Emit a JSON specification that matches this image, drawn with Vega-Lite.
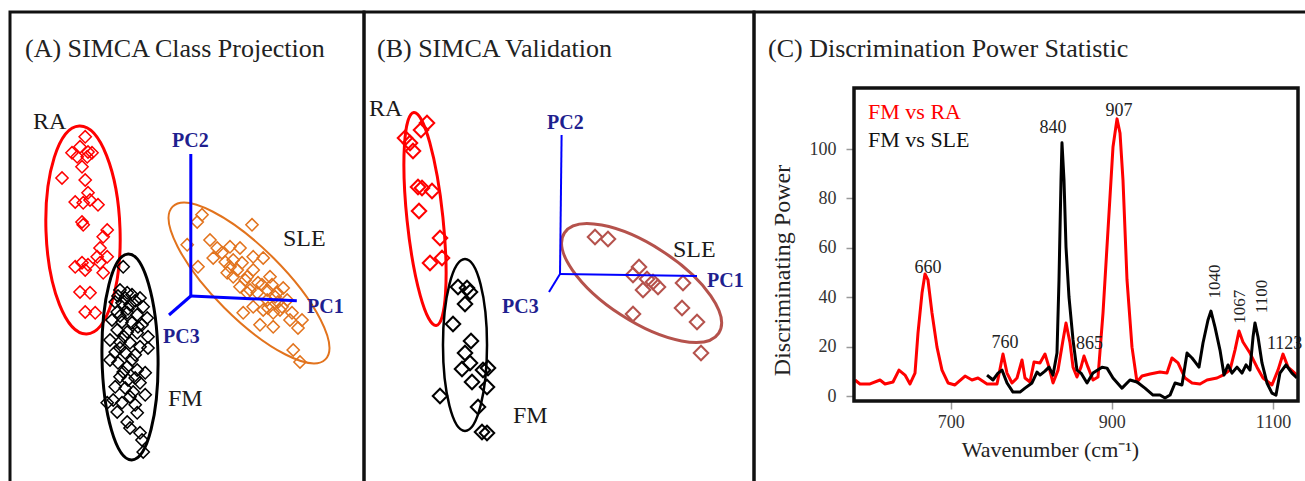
{
"$schema":"https://vega.github.io/schema/vega-lite/v6.json",
"width":1305,"height":481,"autosize":{"type":"none"},"padding":0,"background":"white",
"config":{"view":{"stroke":null},"font":"Liberation Serif"},
"datasets":{
"scoresA":[
{"cls":"RA","x":18.8,"y":88.8},{"cls":"RA","x":17.5,"y":86.3},{"cls":"RA","x":15.5,"y":84.8},{"cls":"RA","x":19.5,"y":85},{"cls":"RA","x":20.5,"y":84.8},{"cls":"RA","x":16.8,"y":83.8},{"cls":"RA","x":19.3,"y":83.8},{"cls":"RA","x":18,"y":81.3},{"cls":"RA","x":13,"y":78.5},{"cls":"RA","x":18.8,"y":78},{"cls":"RA","x":19.5,"y":74.8},{"cls":"RA","x":16.3,"y":72.5},{"cls":"RA","x":18.3,"y":72.3},{"cls":"RA","x":20,"y":73},{"cls":"RA","x":22,"y":71.8},{"cls":"RA","x":18,"y":67.5},{"cls":"RA","x":18.3,"y":66.8},{"cls":"RA","x":24.3,"y":65.5},{"cls":"RA","x":23.3,"y":63.8},{"cls":"RA","x":22.5,"y":61},{"cls":"RA","x":21.8,"y":58.8},{"cls":"RA","x":18,"y":57.3},{"cls":"RA","x":16.3,"y":56.3},{"cls":"RA","x":19.5,"y":56.8},{"cls":"RA","x":22.5,"y":57.3},{"cls":"RA","x":24.3,"y":58.8},{"cls":"RA","x":18.8,"y":55.5},{"cls":"RA","x":23.3,"y":54.8},{"cls":"RA","x":17.5,"y":50},{"cls":"RA","x":20,"y":49.8},{"cls":"RA","x":18.8,"y":45},{"cls":"RA","x":21.3,"y":44.8},
{"cls":"FM","x":28.3,"y":56.3},{"cls":"FM","x":27.5,"y":50.5},{"cls":"FM","x":29.3,"y":49.8},{"cls":"FM","x":30.5,"y":49.3},{"cls":"FM","x":32.5,"y":48.5},{"cls":"FM","x":26.3,"y":47.5},{"cls":"FM","x":28,"y":47.3},{"cls":"FM","x":30,"y":46.8},{"cls":"FM","x":33.3,"y":46.3},{"cls":"FM","x":26.8,"y":45},{"cls":"FM","x":29.3,"y":44.8},{"cls":"FM","x":31.8,"y":44.3},{"cls":"FM","x":34.3,"y":43.5},{"cls":"FM","x":25.5,"y":43},{"cls":"FM","x":28,"y":42.5},{"cls":"FM","x":30.5,"y":42.3},{"cls":"FM","x":33,"y":41.8},{"cls":"FM","x":26.8,"y":40.5},{"cls":"FM","x":29.3,"y":40},{"cls":"FM","x":31.8,"y":39.8},{"cls":"FM","x":34.5,"y":38.8},{"cls":"FM","x":25,"y":38},{"cls":"FM","x":27.5,"y":37.5},{"cls":"FM","x":30,"y":37.3},{"cls":"FM","x":32.5,"y":36.3},{"cls":"FM","x":34.5,"y":36},{"cls":"FM","x":26.3,"y":35},{"cls":"FM","x":28.8,"y":34.8},{"cls":"FM","x":31.3,"y":34.3},{"cls":"FM","x":25,"y":33},{"cls":"FM","x":27,"y":32.3},{"cls":"FM","x":29.3,"y":31.3},{"cls":"FM","x":31.8,"y":30.5},{"cls":"FM","x":33.8,"y":29.8},{"cls":"FM","x":27.5,"y":28.8},{"cls":"FM","x":29.5,"y":28},{"cls":"FM","x":32.5,"y":27.3},{"cls":"FM","x":26.3,"y":26.3},{"cls":"FM","x":28.8,"y":26},{"cls":"FM","x":30.8,"y":25},{"cls":"FM","x":33.8,"y":24.3},{"cls":"FM","x":25.8,"y":23},{"cls":"FM","x":24.3,"y":22.3},{"cls":"FM","x":28,"y":22.3},{"cls":"FM","x":31.3,"y":21.8},{"cls":"FM","x":26.8,"y":20},{"cls":"FM","x":31.8,"y":19.8},{"cls":"FM","x":29.3,"y":17.5},{"cls":"FM","x":30,"y":16},{"cls":"FM","x":32.5,"y":14.8},{"cls":"FM","x":33,"y":13},{"cls":"FM","x":33.3,"y":10},{"cls":"FM","x":28.8,"y":48.5},{"cls":"FM","x":27,"y":49},{"cls":"FM","x":31.3,"y":47.8},{"cls":"FM","x":29.5,"y":45.8},{"cls":"FM","x":27.5,"y":44},{"cls":"FM","x":32,"y":41.3},{"cls":"FM","x":28.5,"y":38.8},{"cls":"FM","x":27.5,"y":36},{"cls":"FM","x":30.5,"y":33},{"cls":"FM","x":28.3,"y":30},{"cls":"FM","x":31.3,"y":28.5},{"cls":"FM","x":30,"y":23.8},
{"cls":"SLE","x":44.3,"y":61.8},{"cls":"SLE","x":46.8,"y":67.5},{"cls":"SLE","x":48,"y":69.3},{"cls":"SLE","x":47,"y":56.3},{"cls":"SLE","x":50,"y":63},{"cls":"SLE","x":51.8,"y":61},{"cls":"SLE","x":53,"y":59.8},{"cls":"SLE","x":50.8,"y":58.5},{"cls":"SLE","x":55,"y":61.3},{"cls":"SLE","x":55.8,"y":58},{"cls":"SLE","x":57.5,"y":61},{"cls":"SLE","x":58,"y":57.3},{"cls":"SLE","x":60.5,"y":66.8},{"cls":"SLE","x":60.8,"y":55.5},{"cls":"SLE","x":59.3,"y":53.8},{"cls":"SLE","x":55.8,"y":53.8},{"cls":"SLE","x":54.3,"y":54.8},{"cls":"SLE","x":57.5,"y":51.3},{"cls":"SLE","x":60.8,"y":58.8},{"cls":"SLE","x":63.3,"y":58.5},{"cls":"SLE","x":62,"y":52.3},{"cls":"SLE","x":64.3,"y":50.5},{"cls":"SLE","x":65,"y":53.8},{"cls":"SLE","x":66.8,"y":49.8},{"cls":"SLE","x":68.3,"y":51},{"cls":"SLE","x":69.3,"y":48},{"cls":"SLE","x":68,"y":46.3},{"cls":"SLE","x":65.8,"y":44.8},{"cls":"SLE","x":63.3,"y":45.5},{"cls":"SLE","x":60.8,"y":46.3},{"cls":"SLE","x":58.3,"y":44.8},{"cls":"SLE","x":62.5,"y":41.8},{"cls":"SLE","x":65.8,"y":41.3},{"cls":"SLE","x":70,"y":43},{"cls":"SLE","x":72,"y":41},{"cls":"SLE","x":73,"y":43},{"cls":"SLE","x":70.8,"y":35.5},{"cls":"SLE","x":72.5,"y":32.5},{"cls":"SLE","x":55,"y":56.3},{"cls":"SLE","x":56.8,"y":55.5},{"cls":"SLE","x":59.3,"y":49.8},{"cls":"SLE","x":64.3,"y":48},{"cls":"SLE","x":67,"y":47.5},{"cls":"SLE","x":61.8,"y":49.8},{"cls":"SLE","x":65.5,"y":51.8},{"cls":"SLE","x":58.8,"y":53},{"cls":"SLE","x":63,"y":51.8},{"cls":"SLE","x":60,"y":50.5},{"cls":"SLE","x":66.3,"y":48.8},{"cls":"SLE","x":67.5,"y":45.5},{"cls":"SLE","x":53.8,"y":57.5},{"cls":"SLE","x":64.5,"y":46},{"cls":"SLE","x":70.5,"y":44.8}
],
"scoresB":[
{"cls":"RA","x":15.75,"y":92.25},{"cls":"RA","x":14.25,"y":90.5},{"cls":"RA","x":10.25,"y":88.5},{"cls":"RA","x":11.5,"y":87.25},{"cls":"RA","x":12.25,"y":85.25},{"cls":"RA","x":13.5,"y":76.25},{"cls":"RA","x":14.5,"y":76},{"cls":"RA","x":17,"y":75.25},{"cls":"RA","x":13.75,"y":70.25},{"cls":"RA","x":19,"y":63.5},{"cls":"RA","x":19.5,"y":58.5},{"cls":"RA","x":16.5,"y":57.25},
{"cls":"FM","x":23.5,"y":51.25},{"cls":"FM","x":25.75,"y":51},{"cls":"FM","x":26.5,"y":50},{"cls":"FM","x":25.25,"y":47},{"cls":"FM","x":22.25,"y":42},{"cls":"FM","x":26.75,"y":37.75},{"cls":"FM","x":25.25,"y":34.75},{"cls":"FM","x":24.5,"y":30.75},{"cls":"FM","x":26.5,"y":32.25},{"cls":"FM","x":27,"y":27.5},{"cls":"FM","x":29.75,"y":30.5},{"cls":"FM","x":31,"y":31},{"cls":"FM","x":30.75,"y":26.25},{"cls":"FM","x":19,"y":24},{"cls":"FM","x":28.5,"y":21.25},{"cls":"FM","x":29.5,"y":15},{"cls":"FM","x":30.75,"y":14.75},
{"cls":"SLE","x":57.75,"y":63.75},{"cls":"SLE","x":61,"y":63.25},{"cls":"SLE","x":68.75,"y":56.25},{"cls":"SLE","x":67.25,"y":54.25},{"cls":"SLE","x":70.75,"y":53.25},{"cls":"SLE","x":72.25,"y":52.5},{"cls":"SLE","x":73.5,"y":51.25},{"cls":"SLE","x":69.75,"y":50.5},{"cls":"SLE","x":79.75,"y":52.25},{"cls":"SLE","x":67.25,"y":44.5},{"cls":"SLE","x":79.5,"y":46},{"cls":"SLE","x":83.25,"y":42.5},{"cls":"SLE","x":84.25,"y":34.75}
],
"pcAxesA":[{"axis":"PC1","x":45.2,"y":49,"x2":71.7,"y2":47.8},{"axis":"PC2","x":45.2,"y":49,"x2":45.2,"y2":84.5},{"axis":"PC3","x":45.2,"y":49,"x2":39.75,"y2":44.25}],
"pcAxesB":[{"axis":"PC1","x":49,"y":54.5,"x2":83.25,"y2":54},{"axis":"PC2","x":49,"y":54.5,"x2":49.4,"y2":89.25},{"axis":"PC3","x":49,"y":54.5,"x2":46.25,"y2":50}],
"dp":[
{"pair":"FM vs RA","wn":581.2,"dp":6.5},{"pair":"FM vs RA","wn":587.4,"dp":4.9},{"pair":"FM vs RA","wn":599.9,"dp":4.9},{"pair":"FM vs RA","wn":612.3,"dp":6.5},{"pair":"FM vs RA","wn":618.5,"dp":4.9},{"pair":"FM vs RA","wn":628.4,"dp":5.7},{"pair":"FM vs RA","wn":635.8,"dp":10.5},{"pair":"FM vs RA","wn":643.3,"dp":8.5},{"pair":"FM vs RA","wn":649.5,"dp":4.9},{"pair":"FM vs RA","wn":655.7,"dp":9.3},{"pair":"FM vs RA","wn":659.4,"dp":25.5},{"pair":"FM vs RA","wn":664.4,"dp":41.7},{"pair":"FM vs RA","wn":668.1,"dp":49.4},{"pair":"FM vs RA","wn":671.8,"dp":47},{"pair":"FM vs RA","wn":676.8,"dp":33.6},{"pair":"FM vs RA","wn":683,"dp":19.8},{"pair":"FM vs RA","wn":689.2,"dp":10.5},{"pair":"FM vs RA","wn":696.7,"dp":5.3},{"pair":"FM vs RA","wn":705.3,"dp":4.5},{"pair":"FM vs RA","wn":717.8,"dp":8.1},{"pair":"FM vs RA","wn":726.4,"dp":6.5},{"pair":"FM vs RA","wn":733.9,"dp":7.3},{"pair":"FM vs RA","wn":745.1,"dp":4.9},{"pair":"FM vs RA","wn":757.5,"dp":4.9},{"pair":"FM vs RA","wn":764.9,"dp":17},{"pair":"FM vs RA","wn":769.9,"dp":9.3},{"pair":"FM vs RA","wn":776.1,"dp":5.3},{"pair":"FM vs RA","wn":782.3,"dp":7.3},{"pair":"FM vs RA","wn":788.5,"dp":14.6},{"pair":"FM vs RA","wn":792.2,"dp":7.3},{"pair":"FM vs RA","wn":798.4,"dp":5.7},{"pair":"FM vs RA","wn":803.4,"dp":13.8},{"pair":"FM vs RA","wn":810.8,"dp":13.4},{"pair":"FM vs RA","wn":817,"dp":17},{"pair":"FM vs RA","wn":822,"dp":11.7},{"pair":"FM vs RA","wn":827,"dp":5.3},{"pair":"FM vs RA","wn":833.2,"dp":10.5},{"pair":"FM vs RA","wn":839.4,"dp":22.7},{"pair":"FM vs RA","wn":843.1,"dp":29.6},{"pair":"FM vs RA","wn":848.1,"dp":21.5},{"pair":"FM vs RA","wn":851.8,"dp":11.7},{"pair":"FM vs RA","wn":856.7,"dp":7.7},{"pair":"FM vs RA","wn":861.7,"dp":11.7},{"pair":"FM vs RA","wn":865.4,"dp":16.2},{"pair":"FM vs RA","wn":870.4,"dp":11.7},{"pair":"FM vs RA","wn":876.6,"dp":6.5},{"pair":"FM vs RA","wn":882.8,"dp":7.7},{"pair":"FM vs RA","wn":889,"dp":33.6},{"pair":"FM vs RA","wn":895.2,"dp":67.2},{"pair":"FM vs RA","wn":901.4,"dp":100.8},{"pair":"FM vs RA","wn":906.4,"dp":112.2},{"pair":"FM vs RA","wn":910.1,"dp":106.5},{"pair":"FM vs RA","wn":913.8,"dp":87.5},{"pair":"FM vs RA","wn":918.8,"dp":47},{"pair":"FM vs RA","wn":925,"dp":19.8},{"pair":"FM vs RA","wn":931.2,"dp":5.7},{"pair":"FM vs RA","wn":937.4,"dp":8.1},{"pair":"FM vs RA","wn":947.3,"dp":8.9},{"pair":"FM vs RA","wn":959.7,"dp":9.7},{"pair":"FM vs RA","wn":968.4,"dp":9.3},{"pair":"FM vs RA","wn":974.6,"dp":15.4},{"pair":"FM vs RA","wn":982.1,"dp":13.4},{"pair":"FM vs RA","wn":990.8,"dp":7.3},{"pair":"FM vs RA","wn":999.5,"dp":5.3},{"pair":"FM vs RA","wn":1009.4,"dp":4.9},{"pair":"FM vs RA","wn":1018.1,"dp":6.5},{"pair":"FM vs RA","wn":1030.5,"dp":7.3},{"pair":"FM vs RA","wn":1037.9,"dp":8.5},{"pair":"FM vs RA","wn":1046.6,"dp":10.5},{"pair":"FM vs RA","wn":1052.8,"dp":18.6},{"pair":"FM vs RA","wn":1057.8,"dp":26.3},{"pair":"FM vs RA","wn":1062.7,"dp":21.9},{"pair":"FM vs RA","wn":1071.4,"dp":17.4},{"pair":"FM vs RA","wn":1080.1,"dp":11.7},{"pair":"FM vs RA","wn":1087.6,"dp":7.3},{"pair":"FM vs RA","wn":1098.7,"dp":4.5},{"pair":"FM vs RA","wn":1106.2,"dp":10.5},{"pair":"FM vs RA","wn":1112.4,"dp":17},{"pair":"FM vs RA","wn":1118.6,"dp":11.7},{"pair":"FM vs RA","wn":1129.8,"dp":8.5},
{"pair":"FM vs SLE","wn":745.1,"dp":8.5},{"pair":"FM vs SLE","wn":752.5,"dp":6.5},{"pair":"FM vs SLE","wn":758.7,"dp":9.3},{"pair":"FM vs SLE","wn":763.7,"dp":10.5},{"pair":"FM vs SLE","wn":769.9,"dp":5.3},{"pair":"FM vs SLE","wn":777.3,"dp":1.6},{"pair":"FM vs SLE","wn":786,"dp":1.6},{"pair":"FM vs SLE","wn":792.2,"dp":3.2},{"pair":"FM vs SLE","wn":800.9,"dp":5.3},{"pair":"FM vs SLE","wn":807.1,"dp":9.7},{"pair":"FM vs SLE","wn":810.8,"dp":8.5},{"pair":"FM vs SLE","wn":817,"dp":10.1},{"pair":"FM vs SLE","wn":822,"dp":11.7},{"pair":"FM vs SLE","wn":827,"dp":8.5},{"pair":"FM vs SLE","wn":831.9,"dp":17.4},{"pair":"FM vs SLE","wn":834.4,"dp":47},{"pair":"FM vs SLE","wn":836.9,"dp":87.5},{"pair":"FM vs SLE","wn":838.1,"dp":102.5},{"pair":"FM vs SLE","wn":840.6,"dp":87.5},{"pair":"FM vs SLE","wn":843.1,"dp":60.3},{"pair":"FM vs SLE","wn":846.8,"dp":40.1},{"pair":"FM vs SLE","wn":851.8,"dp":22.7},{"pair":"FM vs SLE","wn":856.7,"dp":10.5},{"pair":"FM vs SLE","wn":861.7,"dp":9.3},{"pair":"FM vs SLE","wn":869.2,"dp":5.3},{"pair":"FM vs SLE","wn":876.6,"dp":9.3},{"pair":"FM vs SLE","wn":887.8,"dp":11.7},{"pair":"FM vs SLE","wn":894,"dp":11.3},{"pair":"FM vs SLE","wn":901.4,"dp":7.3},{"pair":"FM vs SLE","wn":912.6,"dp":3.2},{"pair":"FM vs SLE","wn":922.5,"dp":6.5},{"pair":"FM vs SLE","wn":931.2,"dp":5.7},{"pair":"FM vs SLE","wn":941.1,"dp":3.2},{"pair":"FM vs SLE","wn":951.1,"dp":0.4},{"pair":"FM vs SLE","wn":959.7,"dp":0.4},{"pair":"FM vs SLE","wn":966,"dp":-0.8},{"pair":"FM vs SLE","wn":972.2,"dp":0.4},{"pair":"FM vs SLE","wn":978.4,"dp":5.3},{"pair":"FM vs SLE","wn":987,"dp":4.5},{"pair":"FM vs SLE","wn":993.3,"dp":17.4},{"pair":"FM vs SLE","wn":999.5,"dp":15.4},{"pair":"FM vs SLE","wn":1003.2,"dp":13.8},{"pair":"FM vs SLE","wn":1008.1,"dp":11.7},{"pair":"FM vs SLE","wn":1013.1,"dp":21.5},{"pair":"FM vs SLE","wn":1019.3,"dp":30.8},{"pair":"FM vs SLE","wn":1023,"dp":34.4},{"pair":"FM vs SLE","wn":1028,"dp":27.9},{"pair":"FM vs SLE","wn":1034.2,"dp":18.6},{"pair":"FM vs SLE","wn":1039.2,"dp":8.5},{"pair":"FM vs SLE","wn":1044.1,"dp":12.6},{"pair":"FM vs SLE","wn":1049.1,"dp":9.3},{"pair":"FM vs SLE","wn":1055.3,"dp":11.7},{"pair":"FM vs SLE","wn":1061.5,"dp":9.3},{"pair":"FM vs SLE","wn":1066.5,"dp":12.6},{"pair":"FM vs SLE","wn":1071.4,"dp":10.5},{"pair":"FM vs SLE","wn":1075.2,"dp":23.9},{"pair":"FM vs SLE","wn":1077.6,"dp":29.6},{"pair":"FM vs SLE","wn":1081.4,"dp":23.9},{"pair":"FM vs SLE","wn":1086.3,"dp":13.4},{"pair":"FM vs SLE","wn":1092.5,"dp":5.3},{"pair":"FM vs SLE","wn":1098.7,"dp":1.2},{"pair":"FM vs SLE","wn":1103.7,"dp":0.4},{"pair":"FM vs SLE","wn":1108.6,"dp":9.3},{"pair":"FM vs SLE","wn":1116.1,"dp":12.6},{"pair":"FM vs SLE","wn":1123.5,"dp":9.3},{"pair":"FM vs SLE","wn":1129.8,"dp":7.3}
]
},
"layer":[
{"layer":[
 {"data":{"values":[{}]},"mark":{"type":"rect","fill":"transparent","stroke":"#111111","strokeWidth":3},
  "encoding":{"x":{"datum":0,"type":"quantitative","scale":{"domain":[0,88.5],"range":[10,364],"nice":false,"zero":false},"axis":null},"x2":{"datum":88.5},"y":{"datum":0,"type":"quantitative","scale":{"domain":[0,120],"range":[492,12],"nice":false,"zero":false},"axis":null},"y2":{"datum":120}}},
 {"data":{"values":[{"cls":"RA","x":18.25,"y":65.5}]},"mark":{"type":"point","shape":"M 1 0 C 1 0.1966 0.5523 0.356 0 0.356 C -0.5523 0.356 -1 0.1966 -1 0 C -1 -0.1966 -0.5523 -0.356 0 -0.356 C 0.5523 -0.356 1 -0.1966 1 0 Z","size":43264,"angle":88,"filled":false,"stroke":"#ff0000","strokeWidth":3,"opacity":1},
  "encoding":{"x":{"field":"x","type":"quantitative","scale":{"domain":[0,88.5],"range":[10,364],"nice":false,"zero":false},"axis":null},"y":{"field":"y","type":"quantitative","scale":{"domain":[0,120],"range":[492,12],"nice":false,"zero":false},"axis":null}}},
 {"data":{"values":[{"cls":"FM","x":30,"y":33.75}]},"mark":{"type":"point","shape":"M 1 0 C 1 0.1502 0.5523 0.272 0 0.272 C -0.5523 0.272 -1 0.1502 -1 0 C -1 -0.1502 -0.5523 -0.272 0 -0.272 C 0.5523 -0.272 1 -0.1502 1 0 Z","size":42436,"angle":89,"filled":false,"stroke":"#000000","strokeWidth":3,"opacity":1},
  "encoding":{"x":{"field":"x","type":"quantitative","scale":{"domain":[0,88.5],"range":[10,364],"nice":false,"zero":false},"axis":null},"y":{"field":"y","type":"quantitative","scale":{"domain":[0,120],"range":[492,12],"nice":false,"zero":false},"axis":null}}},
 {"data":{"values":[{"cls":"SLE","x":59.75,"y":52.25}]},"mark":{"type":"point","shape":"M 1 0 C 1 0.1789 0.5523 0.324 0 0.324 C -0.5523 0.324 -1 0.1789 -1 0 C -1 -0.1789 -0.5523 -0.324 0 -0.324 C 0.5523 -0.324 1 -0.1789 1 0 Z","size":46656,"angle":45,"filled":false,"stroke":"#e2731d","strokeWidth":2,"opacity":1},
  "encoding":{"x":{"field":"x","type":"quantitative","scale":{"domain":[0,88.5],"range":[10,364],"nice":false,"zero":false},"axis":null},"y":{"field":"y","type":"quantitative","scale":{"domain":[0,120],"range":[492,12],"nice":false,"zero":false},"axis":null}}},
 {"data":{"name":"scoresA"},"mark":{"type":"point","shape":"diamond","size":150,"filled":false,"strokeWidth":1.5,"opacity":1},
  "encoding":{"x":{"field":"x","type":"quantitative","scale":{"domain":[0,88.5],"range":[10,364],"nice":false,"zero":false},"axis":null},"y":{"field":"y","type":"quantitative","scale":{"domain":[0,120],"range":[492,12],"nice":false,"zero":false},"axis":null},
   "color":{"field":"cls","type":"nominal","scale":{"domain":["RA","FM","SLE"],"range":["#ff0000","#000000","#e2731d"]},"legend":null}}},
 {"data":{"name":"pcAxesA"},"mark":{"type":"rule","color":"#0000ff","strokeWidth":3},
  "encoding":{"x":{"field":"x","type":"quantitative","scale":{"domain":[0,88.5],"range":[10,364],"nice":false,"zero":false},"axis":null},"y":{"field":"y","type":"quantitative","scale":{"domain":[0,120],"range":[492,12],"nice":false,"zero":false},"axis":null},"x2":{"field":"x2"},"y2":{"field":"y2"}}},
 {"data":{"values":[{"label":"PC2","x":40.5,"y":86.25},{"label":"PC1","x":74.25,"y":44.75},{"label":"PC3","x":38.25,"y":37.25}]},"mark":{"type":"text","align":"left","baseline":"alphabetic","font":"Liberation Serif","fontSize":20,"fontWeight":"bold","color":"#1f1f8f"},
  "encoding":{"x":{"field":"x","type":"quantitative","scale":{"domain":[0,88.5],"range":[10,364],"nice":false,"zero":false},"axis":null},"y":{"field":"y","type":"quantitative","scale":{"domain":[0,120],"range":[492,12],"nice":false,"zero":false},"axis":null},"text":{"field":"label"}}},
 {"data":{"values":[{"label":"RA","x":5.75,"y":90.75},{"label":"SLE","x":68.25,"y":61.5},{"label":"FM","x":39.5,"y":21.5}]},"mark":{"type":"text","align":"left","baseline":"alphabetic","font":"Liberation Serif","fontSize":24,"color":"#1a1a1a"},
  "encoding":{"x":{"field":"x","type":"quantitative","scale":{"domain":[0,88.5],"range":[10,364],"nice":false,"zero":false},"axis":null},"y":{"field":"y","type":"quantitative","scale":{"domain":[0,120],"range":[492,12],"nice":false,"zero":false},"axis":null},"text":{"field":"label"}}},
 {"data":{"values":[{"label":"(A) SIMCA Class Projection","x":3.75,"y":108.75}]},"mark":{"type":"text","align":"left","baseline":"alphabetic","font":"Liberation Serif","fontSize":26,"color":"#222222"},
  "encoding":{"x":{"field":"x","type":"quantitative","scale":{"domain":[0,88.5],"range":[10,364],"nice":false,"zero":false},"axis":null},"y":{"field":"y","type":"quantitative","scale":{"domain":[0,120],"range":[492,12],"nice":false,"zero":false},"axis":null},"text":{"field":"label"}}}
]},
{"layer":[
 {"data":{"values":[{}]},"mark":{"type":"rect","fill":"transparent","stroke":"#111111","strokeWidth":3},
  "encoding":{"x":{"datum":0,"type":"quantitative","scale":{"domain":[0,97.5],"range":[364,754],"nice":false,"zero":false},"axis":null},"x2":{"datum":97.5},"y":{"datum":0,"type":"quantitative","scale":{"domain":[0,120],"range":[492,12],"nice":false,"zero":false},"axis":null},"y2":{"datum":120}}},
 {"data":{"values":[{"cls":"RA","x":15.25,"y":68.25}]},"mark":{"type":"point","shape":"M 1 0 C 1 0.0928 0.5523 0.168 0 0.168 C -0.5523 0.168 -1 0.0928 -1 0 C -1 -0.0928 -0.5523 -0.168 0 -0.168 C 0.5523 -0.168 1 -0.0928 1 0 Z","size":45796,"angle":84,"filled":false,"stroke":"#ff0000","strokeWidth":3,"opacity":1},
  "encoding":{"x":{"field":"x","type":"quantitative","scale":{"domain":[0,97.5],"range":[364,754],"nice":false,"zero":false},"axis":null},"y":{"field":"y","type":"quantitative","scale":{"domain":[0,120],"range":[492,12],"nice":false,"zero":false},"axis":null}}},
 {"data":{"values":[{"cls":"FM","x":25.25,"y":36.75}]},"mark":{"type":"point","shape":"M 1 0 C 1 0.1414 0.5523 0.256 0 0.256 C -0.5523 0.256 -1 0.1414 -1 0 C -1 -0.1414 -0.5523 -0.256 0 -0.256 C 0.5523 -0.256 1 -0.1414 1 0 Z","size":29584,"angle":90,"filled":false,"stroke":"#000000","strokeWidth":2.5,"opacity":1},
  "encoding":{"x":{"field":"x","type":"quantitative","scale":{"domain":[0,97.5],"range":[364,754],"nice":false,"zero":false},"axis":null},"y":{"field":"y","type":"quantitative","scale":{"domain":[0,120],"range":[492,12],"nice":false,"zero":false},"axis":null}}},
 {"data":{"values":[{"cls":"SLE","x":69.4,"y":52.25}]},"mark":{"type":"point","shape":"M 1 0 C 1 0.2281 0.5523 0.413 0 0.413 C -0.5523 0.413 -1 0.2281 -1 0 C -1 -0.2281 -0.5523 -0.413 0 -0.413 C 0.5523 -0.413 1 -0.2281 1 0 Z","size":33856,"angle":33,"filled":false,"stroke":"#b5524c","strokeWidth":3,"opacity":1},
  "encoding":{"x":{"field":"x","type":"quantitative","scale":{"domain":[0,97.5],"range":[364,754],"nice":false,"zero":false},"axis":null},"y":{"field":"y","type":"quantitative","scale":{"domain":[0,120],"range":[492,12],"nice":false,"zero":false},"axis":null}}},
 {"data":{"name":"scoresB"},"mark":{"type":"point","shape":"diamond","size":210,"filled":false,"strokeWidth":2,"opacity":1},
  "encoding":{"x":{"field":"x","type":"quantitative","scale":{"domain":[0,97.5],"range":[364,754],"nice":false,"zero":false},"axis":null},"y":{"field":"y","type":"quantitative","scale":{"domain":[0,120],"range":[492,12],"nice":false,"zero":false},"axis":null},
   "color":{"field":"cls","type":"nominal","scale":{"domain":["RA","FM","SLE"],"range":["#ff0000","#000000","#b5524c"]},"legend":null}}},
 {"data":{"name":"pcAxesB"},"mark":{"type":"rule","color":"#0000ff","strokeWidth":2},
  "encoding":{"x":{"field":"x","type":"quantitative","scale":{"domain":[0,97.5],"range":[364,754],"nice":false,"zero":false},"axis":null},"y":{"field":"y","type":"quantitative","scale":{"domain":[0,120],"range":[492,12],"nice":false,"zero":false},"axis":null},"x2":{"field":"x2"},"y2":{"field":"y2"}}},
 {"data":{"values":[{"label":"PC2","x":45.75,"y":90.75},{"label":"PC1","x":85.75,"y":51.25},{"label":"PC3","x":34.5,"y":44.75}]},"mark":{"type":"text","align":"left","baseline":"alphabetic","font":"Liberation Serif","fontSize":20,"fontWeight":"bold","color":"#1f1f8f"},
  "encoding":{"x":{"field":"x","type":"quantitative","scale":{"domain":[0,97.5],"range":[364,754],"nice":false,"zero":false},"axis":null},"y":{"field":"y","type":"quantitative","scale":{"domain":[0,120],"range":[492,12],"nice":false,"zero":false},"axis":null},"text":{"field":"label"}}},
 {"data":{"values":[{"label":"RA","x":1.25,"y":94},{"label":"SLE","x":77.25,"y":58.75},{"label":"FM","x":37.25,"y":17.25}]},"mark":{"type":"text","align":"left","baseline":"alphabetic","font":"Liberation Serif","fontSize":24,"color":"#1a1a1a"},
  "encoding":{"x":{"field":"x","type":"quantitative","scale":{"domain":[0,97.5],"range":[364,754],"nice":false,"zero":false},"axis":null},"y":{"field":"y","type":"quantitative","scale":{"domain":[0,120],"range":[492,12],"nice":false,"zero":false},"axis":null},"text":{"field":"label"}}},
 {"data":{"values":[{"label":"(B) SIMCA Validation","x":3.25,"y":108.75}]},"mark":{"type":"text","align":"left","baseline":"alphabetic","font":"Liberation Serif","fontSize":26,"color":"#222222"},
  "encoding":{"x":{"field":"x","type":"quantitative","scale":{"domain":[0,97.5],"range":[364,754],"nice":false,"zero":false},"axis":null},"y":{"field":"y","type":"quantitative","scale":{"domain":[0,120],"range":[492,12],"nice":false,"zero":false},"axis":null},"text":{"field":"label"}}}
]},
{"layer":[
 {"data":{"values":[{}]},"mark":{"type":"rect","fill":"transparent","stroke":"#111111","strokeWidth":3},
  "encoding":{"x":{"datum":0,"type":"quantitative","scale":{"domain":[0,139],"range":[754,1310],"nice":false,"zero":false},"axis":null},"x2":{"datum":139},"y":{"datum":0,"type":"quantitative","scale":{"domain":[0,120],"range":[492,12],"nice":false,"zero":false},"axis":null},"y2":{"datum":120}}},
 {"data":{"values":[{"label":"(C) Discrimination Power Statistic","x":3.5,"y":108.75}]},"mark":{"type":"text","align":"left","baseline":"alphabetic","font":"Liberation Serif","fontSize":26,"color":"#222222"},
  "encoding":{"x":{"field":"x","type":"quantitative","scale":{"domain":[0,139],"range":[754,1310],"nice":false,"zero":false},"axis":null},"y":{"field":"y","type":"quantitative","scale":{"domain":[0,120],"range":[492,12],"nice":false,"zero":false},"axis":null},"text":{"field":"label"}}}
]},
{"layer":[
 {"data":{"name":"dp"},"transform":[{"filter":"datum.pair === 'FM vs RA'"}],"mark":{"type":"line","color":"#ff0000","strokeWidth":3,"strokeJoin":"round"},
  "encoding":{"x":{"field":"wn","type":"quantitative","scale":{"domain":[580,1131],"range":[854,1298],"nice":false,"zero":false},
    "axis":{"orient":"bottom","offset":-80,"values":[700,900,1100],"format":"d","domain":false,"grid":false,"tickSize":8,"tickColor":"#9a9a9a","tickWidth":1.5,"labelFont":"Liberation Serif","labelFontSize":18,"labelColor":"#333333","labelPadding":4,"labelFlush":false,"title":"Wavenumber (cm⁻¹)","titleFont":"Liberation Serif","titleFontSize":22,"titleFontWeight":"normal","titleColor":"#222222","titleX":1050,"titleY":55,"titleBaseline":"alphabetic","titleAlign":"center"}},
   "y":{"field":"dp","type":"quantitative","scale":{"domain":[-2,124.7],"range":[401,88],"nice":false,"zero":false},
    "axis":{"orient":"left","offset":-854,"values":[0,20,40,60,80,100],"format":"d","domain":false,"grid":false,"tickSize":8,"tickColor":"#9a9a9a","tickWidth":1.5,"labelFont":"Liberation Serif","labelFontSize":18,"labelColor":"#333333","labelPadding":10,"title":"Discriminating Power","titleFont":"Liberation Serif","titleFontSize":24,"titleFontWeight":"normal","titleColor":"#222222","titleX":-65,"titleY":270,"titleAngle":270,"titleBaseline":"alphabetic","titleAlign":"center"}}}},
 {"data":{"name":"dp"},"transform":[{"filter":"datum.pair === 'FM vs SLE'"}],"mark":{"type":"line","color":"#000000","strokeWidth":3,"strokeJoin":"round"},
  "encoding":{"x":{"field":"wn","type":"quantitative","scale":{"domain":[580,1131],"range":[854,1298],"nice":false,"zero":false}},
   "y":{"field":"dp","type":"quantitative","scale":{"domain":[-2,124.7],"range":[401,88],"nice":false,"zero":false}}}},
 {"data":{"values":[{"label":"660","wn":671.8,"dp":49.8},{"label":"760","wn":767.4,"dp":19.4},{"label":"840","wn":827,"dp":106.5},{"label":"907","wn":908.9,"dp":113.4},{"label":"865","wn":872.3,"dp":19}]},
  "mark":{"type":"text","align":"center","baseline":"alphabetic","font":"Liberation Serif","fontSize":18,"color":"#222222"},
  "encoding":{"x":{"field":"wn","type":"quantitative","scale":{"domain":[580,1131],"range":[854,1298],"nice":false,"zero":false}},
   "y":{"field":"dp","type":"quantitative","scale":{"domain":[-2,124.7],"range":[401,88],"nice":false,"zero":false}},"text":{"field":"label"}}},
 {"data":{"values":[{"label":"1123","wn":1092.5,"dp":19.2}]},
  "mark":{"type":"text","align":"left","baseline":"alphabetic","font":"Liberation Serif","fontSize":18,"color":"#222222"},
  "encoding":{"x":{"field":"wn","type":"quantitative","scale":{"domain":[580,1131],"range":[854,1298],"nice":false,"zero":false}},
   "y":{"field":"dp","type":"quantitative","scale":{"domain":[-2,124.7],"range":[401,88],"nice":false,"zero":false}},"text":{"field":"label"}}},
 {"data":{"values":[{"label":"1040","wn":1034.2,"dp":46.4},{"label":"1067","wn":1065.2,"dp":36.2},{"label":"1100","wn":1092.5,"dp":40.3}]},
  "mark":{"type":"text","align":"center","baseline":"alphabetic","angle":270,"font":"Liberation Serif","fontSize":17,"color":"#222222"},
  "encoding":{"x":{"field":"wn","type":"quantitative","scale":{"domain":[580,1131],"range":[854,1298],"nice":false,"zero":false}},
   "y":{"field":"dp","type":"quantitative","scale":{"domain":[-2,124.7],"range":[401,88],"nice":false,"zero":false}},"text":{"field":"label"}}},
 {"data":{"values":[{"label":"FM vs RA","wn":597.4,"dp":112.1}]},
  "mark":{"type":"text","align":"left","baseline":"alphabetic","font":"Liberation Serif","fontSize":22,"color":"#ff0000"},
  "encoding":{"x":{"field":"wn","type":"quantitative","scale":{"domain":[580,1131],"range":[854,1298],"nice":false,"zero":false}},
   "y":{"field":"dp","type":"quantitative","scale":{"domain":[-2,124.7],"range":[401,88],"nice":false,"zero":false}},"text":{"field":"label"}}},
 {"data":{"values":[{"label":"FM vs SLE","wn":597.4,"dp":101}]},
  "mark":{"type":"text","align":"left","baseline":"alphabetic","font":"Liberation Serif","fontSize":22,"color":"#111111"},
  "encoding":{"x":{"field":"wn","type":"quantitative","scale":{"domain":[580,1131],"range":[854,1298],"nice":false,"zero":false}},
   "y":{"field":"dp","type":"quantitative","scale":{"domain":[-2,124.7],"range":[401,88],"nice":false,"zero":false}},"text":{"field":"label"}}},
 {"data":{"values":[{}]},"mark":{"type":"rect","fill":"transparent","stroke":"#111111","strokeWidth":3.5},
  "encoding":{"x":{"datum":580,"type":"quantitative","scale":{"domain":[580,1131],"range":[854,1298],"nice":false,"zero":false}},"x2":{"datum":1131},
   "y":{"datum":-2,"type":"quantitative","scale":{"domain":[-2,124.7],"range":[401,88],"nice":false,"zero":false}},"y2":{"datum":124.7}}}
]}
],
"resolve":{"scale":{"x":"independent","y":"independent","color":"independent"},"axis":{"x":"independent","y":"independent"}}
}
